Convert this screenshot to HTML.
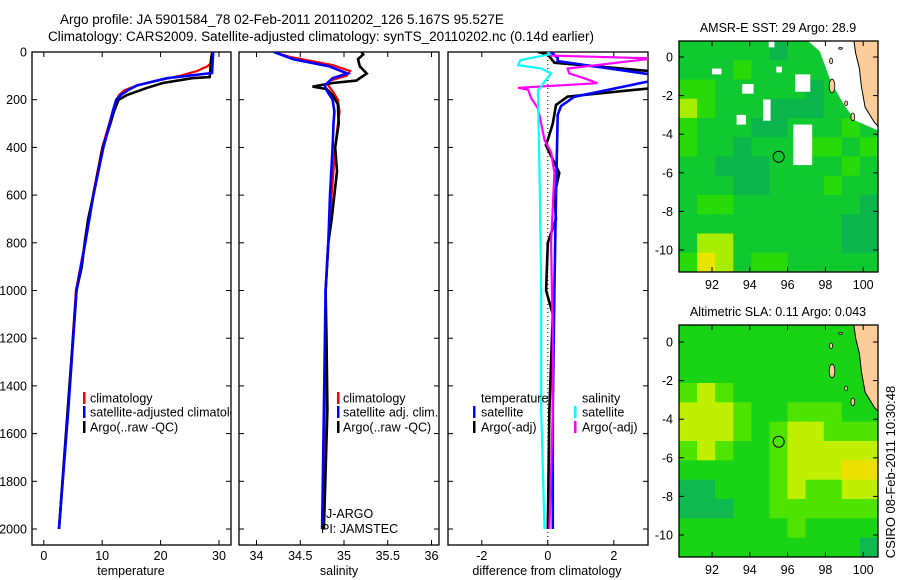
<!DOCTYPE html>
<html><head><meta charset="utf-8">
<style>
html,body{margin:0;padding:0;background:#fff;}
svg{display:block;font-family:"Liberation Sans",sans-serif;}
</style></head>
<body>
<svg id="fig" width="900" height="580" viewBox="0 0 900 580" xmlns="http://www.w3.org/2000/svg">
<text x="60" y="24" font-size="13.5">Argo profile: JA 5901584_78 02-Feb-2011 20110202_126 5.167S 95.527E</text>
<text x="48" y="41" font-size="13.5">Climatology: CARS2009. Satellite-adjusted climatology: synTS_20110202.nc (0.14d earlier)</text>
<defs>
<clipPath id="c1"><rect x="32" y="52" width="199" height="493"/></clipPath>
<clipPath id="c2"><rect x="239" y="52" width="200" height="493"/></clipPath>
<clipPath id="c3"><rect x="448" y="52" width="200" height="493"/></clipPath>
<clipPath id="m1"><rect x="679" y="41" width="199" height="231"/></clipPath>
<clipPath id="m2"><rect x="679" y="325" width="199" height="232"/></clipPath>
</defs>
<g id="layer"></g>
<text font-size="13" transform="translate(895,472) rotate(-90)" text-anchor="middle">CSIRO 08-Feb-2011 10:30:48</text>
</svg>
<script>
// ---------- data ----------
const depthTicks = [0,200,400,600,800,1000,1200,1400,1600,1800,2000];
const tempTicks = [0,10,20,30];
const salTicks = [34,34.5,35,35.5,36];
const salTickLabels = ["34","34.5","35","35.5","36"];
const diffTicks = [-2,0,2];
const tempClim = [[0,28.8],[50,28.5],[60,28.0],[80,26.2],[100,23.3],[120,19.5],[140,16.0],[160,13.8],[180,12.9],[200,12.5],[250,11.8],[300,11.2],[400,10.0],[600,8.4],[800,7.05],[1000,5.5],[1400,4.4],[1500,4.1],[2000,2.6]];
const tempSat = [[0,29.0],[88,28.8],[110,21.1],[140,16.0],[160,14.4],[180,13.2],[200,12.4],[250,11.8],[300,11.3],[400,10.2],[600,8.5],[800,7.1],[1000,5.6],[1500,4.2],[2000,2.6]];
const tempArgo = [[0,28.9],[20,28.7],[105,28.4],[110,25.4],[130,20.4],[150,17.7],[180,14.3],[200,12.8],[250,12.0],[300,11.4],[400,10.1],[500,9.3],[600,8.5],[700,7.6],[800,7.0],[900,6.5],[1000,5.6],[1200,5.0],[1500,4.1],[2000,2.6]];
const salClim = [[0,34.19],[20,34.38],[55,34.87],[80,35.07],[100,35.03],[120,34.84],[140,34.82],[170,34.88],[200,34.93],[250,34.95],[300,34.93],[400,34.9],[600,34.86],[800,34.82],[1000,34.79],[1500,34.78],[2000,34.76]];
const salSat = [[0,34.2],[30,34.42],[60,34.83],[90,35.04],[110,34.87],[140,34.78],[160,34.8],[200,34.87],[250,34.89],[300,34.88],[400,34.87],[600,34.84],[800,34.82],[1000,34.79],[1500,34.77],[2000,34.75]];
const salArgo = [[0,35.2],[10,35.22],[30,35.16],[60,35.18],[90,35.26],[120,35.14],[130,34.87],[140,34.72],[145,34.64],[155,34.8],[180,34.87],[220,34.93],[300,34.94],[400,34.9],[500,34.92],[700,34.86],[800,34.82],[1000,34.79],[1200,34.8],[1500,34.81],[2000,34.77]];
const dTempSat = [[0,0.1],[25,0.3],[38,0.3],[94,3.1],[122,3.1],[188,0.8],[227,0.4],[263,0.3],[600,0.25],[1000,0.2],[1500,0.15],[2000,0.15]];
const dTempArgo = [[0,-0.3],[10,0],[45,0.2],[80,3.1],[152,3.1],[187,0.6],[222,0.25],[300,0.15],[369,0],[390,-0.06],[507,0.35],[600,0.2],[700,0.25],[800,0.0],[1000,-0.05],[1100,0.15],[1500,0.05],[2000,0.0]];
const dSalSat = [[0,0],[10,0.05],[34,-0.83],[55,-0.9],[69,-0.2],[90,0.1],[117,-0.06],[145,-0.2],[160,-0.3],[500,-0.25],[1000,-0.2],[1500,-0.2],[2000,-0.1]];
const dSalArgo = [[0,0],[15,0.1],[27,3.2],[69,0.6],[90,0.65],[110,1.1],[131,1.5],[150,-0.9],[158,-0.6],[194,-0.5],[236,-0.3],[300,-0.2],[369,-0.1],[420,0.1],[507,0.2],[800,0.1],[1200,0.15],[1500,0.15],[2000,0.05]];
const latTicks = [0,-2,-4,-6,-8,-10];
const lonTicks = [92,94,96,98,100];
// SST grid (rows top->bottom, 11 cols), -1 = no data
const sstGrid = [
[1,1,1,1,1,0,1,1,-1,-1,-1],
[1,1,1,2,1,1,1,1,1,-1,-1],
[2,2,1,1,1,1,1,0,1,1,-1],
[3,2,1,1,1,0,0,0,1,1,1],
[2,1,1,1,0,0,1,1,1,2,1],
[2,1,1,0,1,1,1,2,2,1,2],
[1,1,0,0,0,1,1,1,1,2,1],
[1,1,1,0,0,1,1,1,2,1,1],
[1,2,2,1,1,1,1,1,1,1,0],
[1,1,1,1,1,1,1,1,1,0,0],
[1,3,3,1,1,1,1,1,1,0,0],
[2,4,3,1,2,2,1,1,1,1,1]];
const slaGrid = [
[1,1,1,1,1,1,1,1,1,1,1],
[1,1,1,1,1,1,1,1,1,1,1],
[1,1,1,1,1,1,1,1,1,1,1],
[2,3,2,1,1,1,1,1,1,1,1],
[3,3,3,2,1,1,2,2,2,1,1],
[3,3,3,2,1,2,3,3,2,2,2],
[2,3,2,1,1,2,3,3,3,3,3],
[1,1,1,1,1,2,3,3,3,4,4],
[0,0,1,1,1,2,3,2,2,3,3],
[0,0,0,1,1,2,2,2,2,2,2],
[1,1,1,1,1,1,2,1,1,1,1],
[1,1,1,1,1,1,1,1,1,1,0]];
const sstHoles = [[92.0,-0.6,0.5,0.3],[93.6,-1.4,0.6,0.5],[94.7,-2.2,0.4,1.1],[93.3,-3.0,0.5,0.5],[96.4,-0.9,0.8,0.9],[96.3,-3.5,1.0,2.1],[95.4,-0.5,0.3,0.3],[95.0,0.8,0.3,0.3]];
const argoLon = 95.527, argoLat = -5.167;

// ---------- helpers ----------
const NS="http://www.w3.org/2000/svg";
const layer=document.getElementById('layer');
function mk(tag,attrs,parent){const e=document.createElementNS(NS,tag);for(const k in attrs)e.setAttribute(k,attrs[k]);(parent||layer).appendChild(e);return e;}
const yD = d => 52 + d*0.2385;
const xT = v => 43.8 + v*5.84;
const xS = v => 256.5 + (v-34)*87.5;
const xDf = v => 547.8 + v*33;

function frame(x0,x1,name){
  const r=mk('rect',{x:x0,y:52,width:x1-x0,height:493,fill:'none',stroke:'#000','stroke-width':1.3});
  
  
  depthTicks.forEach(d=>{
    const t1=mk('line',{x1:x0,x2:x0+5,y1:yD(d),y2:yD(d),stroke:'#000'});
    
    
    const t2=mk('line',{x1:x1,x2:x1-5,y1:yD(d),y2:yD(d),stroke:'#000'});
    
    
  });
}
function xticks(ticks,labels,sx,name){
  ticks.forEach((v,i)=>{
    const x=sx(v);
    const a=mk('line',{x1:x,x2:x,y1:52,y2:57,stroke:'#000'});
    
    
    const b=mk('line',{x1:x,x2:x,y1:545,y2:540,stroke:'#000'});
    
    
    const t=mk('text',{x:x,y:560,'font-size':12.5,'text-anchor':'middle'});
    t.textContent=labels[i];
    
    
  });
}
function line(pts,sx,color,clip,name,w){
  const p=mk('polyline',{points:pts.map(q=>sx(q[1]).toFixed(1)+','+yD(q[0]).toFixed(1)).join(' '),fill:'none',stroke:color,'stroke-width':w||2.6,'clip-path':'url(#'+clip+')','stroke-linejoin':'miter'});
  
  
}
function txt(x,y,s,name,opts){
  const t=mk('text',Object.assign({x:x,y:y,'font-size':12.5},opts||{}));
  t.textContent=s;
  
  
  return t;
}
function legbar(x,yc,color,name){
  const r=mk('rect',{x:x,y:yc-6,width:2.5,height:12,fill:color});
  
  
}

// ---------- panel 1 temperature ----------
frame(32,231,'temperature-panel-frame');
depthTicks.forEach(d=>{
  txt(27,yD(d)+4.5,String(d),'depth-tick-label',{'text-anchor':'end'});
});
xticks(tempTicks,tempTicks.map(String),xT,'temperature-axis');
line(tempClim,xT,'#ff0000','c1','temperature-climatology-line',2.2);
line(tempArgo,xT,'#000','c1','temperature-argo-line');
line(tempSat,xT,'#0000ff','c1','temperature-satellite-line');
txt(131,575,'temperature','temperature-axis-title',{'text-anchor':'middle'});
legbar(83,398,'#ff0000','legend-climatology-marker');
txt(90,402.5,'climatology','legend-climatology');
legbar(83,412,'#0000ff','legend-satellite-marker');
const lt=txt(90,416.5,'satellite-adjusted climatology','legend-satellite-adjusted');
lt.setAttribute('clip-path','url(#c1)');
legbar(83,427,'#000','legend-argo-marker');
txt(90,431.5,'Argo(..raw -QC)','legend-argo');

// ---------- panel 2 salinity ----------
frame(239,439,'salinity-panel-frame');
xticks(salTicks,salTickLabels,xS,'salinity-axis');
line(salClim,xS,'#ff0000','c2','salinity-climatology-line',2.2);
line(salArgo,xS,'#000','c2','salinity-argo-line');
line(salSat,xS,'#0000ff','c2','salinity-satellite-line');
txt(339,575,'salinity','salinity-axis-title',{'text-anchor':'middle'});
legbar(337,398,'#ff0000','legend-sal-climatology-marker');
txt(343,402.5,'climatology','legend-sal-climatology');
legbar(337,412,'#0000ff','legend-sal-satellite-marker');
txt(343,416.5,'satellite adj. clim.','legend-sal-satellite');
legbar(337,427,'#000','legend-sal-argo-marker');
txt(343,431.5,'Argo(..raw -QC)','legend-sal-argo');
txt(326,518,'J-ARGO','data-centre-label');
txt(321,533,'PI: JAMSTEC','pi-label');

// ---------- panel 3 difference ----------
frame(448,648,'difference-panel-frame');
xticks(diffTicks,diffTicks.map(String),xDf,'difference-axis');
const zl=mk('line',{x1:xDf(0),x2:xDf(0),y1:52,y2:545,stroke:'#000','stroke-dasharray':'1,3','stroke-width':1});


line(dTempArgo,xDf,'#000','c3','diff-temperature-argo-line');
line(dTempSat,xDf,'#0000ff','c3','diff-temperature-satellite-line');
line(dSalArgo,xDf,'#ff00ff','c3','diff-salinity-argo-line',2.2);
line(dSalSat,xDf,'#00ffff','c3','diff-salinity-satellite-line',2.2);
txt(547,575,'difference from climatology','difference-axis-title',{'text-anchor':'middle'});
txt(481,402.5,'temperature','legend-temperature-header');
txt(582,402.5,'salinity','legend-salinity-header');
legbar(473,412,'#0000ff','legend-dt-satellite-marker');
txt(481,416.5,'satellite','legend-dt-satellite');
legbar(473,427,'#000','legend-dt-argo-marker');
txt(481,431.5,'Argo(-adj)','legend-dt-argo');
legbar(574,412,'#00ffff','legend-ds-satellite-marker');
txt(582,416.5,'satellite','legend-ds-satellite');
legbar(574,427,'#ff00ff','legend-ds-argo-marker');
txt(582,431.5,'Argo(-adj)','legend-ds-argo');

// ---------- maps ----------
const cmapSst=['#0cb44c','#10c830','#28da08','#a8ec00','#e8e400'];
const cmapSla=['#10b850','#18d414','#4ee400','#c0f000','#ece000'];
const xL = lon => 712 + (lon-92)*18.9;
function map(grid,cmap,y0,y1,lat0y,clip,prefix,holes,title){
  const yL = lat => lat0y - lat*19.3;
  const g=mk('g',{'clip-path':'url(#'+clip+')'});
  
  
  const rows=grid.length, cols=grid[0].length;
  const cw=(878-679)/cols, ch=(y1-y0)/rows;
  mk('rect',{x:679,y:y0,width:199,height:y1-y0,fill:'#fff'},g);
  grid.forEach((row,r)=>row.forEach((v,c)=>{
    if(v<0)return;
    const cell=mk('rect',{x:679+c*cw,y:y0+r*ch,width:cw+0.5,height:ch+0.5,fill:cmap[v]},g);
    
    
  }));
  if(holes){
    holes.forEach(h=>{
      const hr=mk('rect',{x:xL(h[0]),y:yL(h[1]),width:h[2]*18.9,height:h[3]*19.3,fill:'#fff'},g);
      
      
    });
    const wp=[[97,0.9],[97.7,0.3],[98.3,-1.3],[99,-2.5],[99.6,-3.3],[101,-3.9],[101,0.9]];
    const w=mk('polygon',{points:wp.map(p=>xL(p[0])+','+yL(p[1])).join(' '),fill:'#fff'},g);
    
    
  }
  const land=[[99.5,0.9],[101,0.9],[101,-3.8],[100.6,-3.4],[100.1,-2.6],[99.9,-1.5],[99.8,-0.6],[99.6,0.2]];
  const lp=mk('polygon',{points:land.map(p=>xL(p[0])+','+yL(p[1])).join(' '),fill:'#fccc99',stroke:'#000','stroke-width':1},g);
  
  
  [[98.35,-1.5,0.15,0.35],[99.1,-2.4,0.08,0.12],[99.45,-3.1,0.1,0.2],[98.8,0.45,0.1,0.05],[98.3,-0.2,0.08,0.15]].forEach(e=>{
    const el=mk('ellipse',{cx:xL(e[0]),cy:yL(e[1]),rx:e[2]*18.9,ry:e[3]*19.3,fill:'#fccc99',stroke:'#000','stroke-width':0.8},g);
    
    
  });
  const fr=mk('rect',{x:679,y:y0,width:199,height:y1-y0,fill:'none',stroke:'#000','stroke-width':1.3});
  
  
  const c=mk('circle',{cx:xL(argoLon),cy:yL(argoLat),r:5.5,fill:'none',stroke:'#000','stroke-width':1});
  
  
  latTicks.forEach(l=>{
    const y=yL(l);
    const a=mk('line',{x1:679,x2:684,y1:y,y2:y,stroke:'#000'});
    
    
    const b=mk('line',{x1:878,x2:873,y1:y,y2:y,stroke:'#000'});
    
    
    txt(673,y+4.5,String(l),prefix+'-lat-label',{'text-anchor':'end'});
  });
  lonTicks.forEach(l=>{
    const x=xL(l);
    const a=mk('line',{x1:x,x2:x,y1:y0,y2:y0+5,stroke:'#000'});
    
    
    const b=mk('line',{x1:x,x2:x,y1:y1,y2:y1-5,stroke:'#000'});
    
    
    txt(x,y1+17,String(l),prefix+'-lon-label',{'text-anchor':'middle'});
  });
  txt(778,y0-9,title,prefix+'-title',{'text-anchor':'middle','font-size':12.5});
}
map(sstGrid,cmapSst,41,272,57,'m1','sst',sstHoles,'AMSR-E SST: 29 Argo: 28.9');
map(slaGrid,cmapSla,325,557,342,'m2','sla',null,'Altimetric SLA: 0.11 Argo: 0.043');
</script>
</body></html>
